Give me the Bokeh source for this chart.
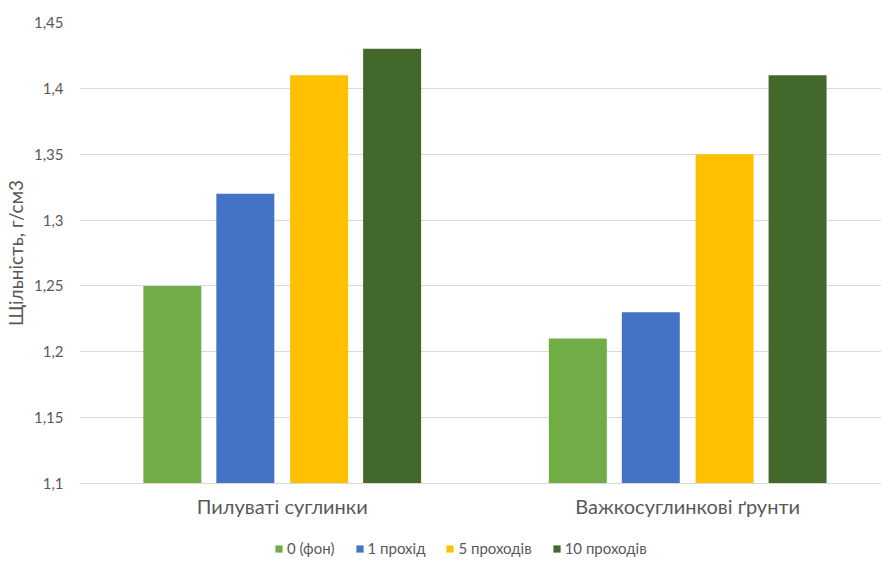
from bokeh.plotting import figure
from bokeh.layouts import column
from bokeh.models import (ColumnDataSource, Range1d, FixedTicker,
                          CustomJSTickFormatter, Legend, LegendItem)
from bokeh.transform import dodge
from bokeh.embed import file_html
from bokeh.resources import INLINE

# Soil density after repeated passes
categories = ["Пилуваті суглинки", "Важкосуглинкові ґрунти"]
series_names = ["0 (фон)", "1 прохід", "5 проходів", "10 проходів"]
fon = [1.25, 1.21]
pass_1 = [1.32, 1.23]
pass_5 = [1.41, 1.35]
pass_10 = [1.43, 1.41]
y_ticks = [1.1, 1.15, 1.2, 1.25, 1.3, 1.35, 1.4, 1.45]

colors = ["#70AD47", "#4472C4", "#FFC000", "#43682B"]
series_keys = ["fon", "p1", "p5", "p10"]
offsets = [-0.271, -0.091, 0.091, 0.271]

# one slot per category, centred at i + 0.5
cat_pos = [i + 0.5 for i in range(len(categories))]
source = ColumnDataSource(dict(pos=cat_pos, fon=fon, p1=pass_1, p5=pass_5, p10=pass_10))

FONT = "Lato"
GREY = "#595959"

p = figure(width=881, height=530,
           x_range=Range1d(0.0, 1.978),
           y_range=Range1d(1.1, 1.45),
           output_backend="svg", toolbar_location=None,
           min_border_left=78, min_border_right=0,
           min_border_top=22, min_border_bottom=47)
p.background_fill_color = "white"
p.border_fill_color = "white"
p.outline_line_color = None

for key, color, off in zip(series_keys, colors, offsets):
    p.vbar(x=dodge("pos", off), top=key, bottom=1.1,
           width=0.143, source=source, fill_color=color, line_color=None)

# y axis
p.yaxis.ticker = FixedTicker(ticks=y_ticks)
p.yaxis.formatter = CustomJSTickFormatter(
    code="return tick.toFixed(2).replace(/0$/, '').replace('.', ',');")
p.yaxis.axis_line_color = None
p.yaxis.major_tick_line_color = None
p.yaxis.minor_tick_line_color = None
p.yaxis.major_tick_out = 0
p.yaxis.major_tick_in = 0
p.yaxis.minor_tick_out = 0
p.yaxis.major_label_text_font = FONT
p.yaxis.major_label_text_font_size = "15px"
p.yaxis.major_label_text_color = GREY
p.yaxis.major_label_standoff = 16
p.yaxis.axis_label = "Щільність, г/см3"
p.yaxis.axis_label_text_font = FONT
p.yaxis.axis_label_text_font_style = "normal"
p.yaxis.axis_label_text_font_size = "19px"
p.yaxis.axis_label_text_color = GREY
p.yaxis.axis_label_standoff = 4

# x axis with category names at the slot centres
p.xaxis.ticker = FixedTicker(ticks=cat_pos)
p.xaxis.major_label_overrides = {pos: name for pos, name in zip(cat_pos, categories)}
p.xaxis.axis_line_color = "#d9d9d9"
p.xaxis.major_tick_line_color = None
p.xaxis.minor_tick_line_color = None
p.xaxis.major_tick_out = 0
p.xaxis.major_tick_in = 0
p.xaxis.minor_tick_out = 0
p.xaxis.major_label_text_font = FONT
p.xaxis.major_label_text_font_size = "20px"
p.xaxis.major_label_text_color = GREY
p.xaxis.major_label_standoff = 10

p.xgrid.grid_line_color = None
p.ygrid.grid_line_color = "#d9d9d9"
p.ygrid.grid_line_width = 1

# legend strip underneath the chart
leg = figure(width=881, height=37, x_range=Range1d(0, 1), y_range=Range1d(0, 1),
             output_backend="svg", toolbar_location=None,
             x_axis_location=None, y_axis_location=None,
             min_border=0)
leg.grid.visible = False
leg.outline_line_color = None
leg.background_fill_color = "white"
leg.border_fill_color = "white"

keys_renderers = []
for key, color, off in zip(series_keys, colors, offsets):
    r = leg.vbar(x=dodge("pos", off), top=key, bottom=1.1, width=0.143,
                 source=source, fill_color=color, line_color=None, visible=False)
    keys_renderers.append(r)

legend = Legend(items=[LegendItem(label=n, renderers=[r]) for n, r in zip(series_names, keys_renderers)],
                orientation="horizontal", location=(195, 10),
                label_text_font=FONT, label_text_font_size="15px",
                label_text_color=GREY, glyph_width=9, glyph_height=9,
                label_standoff=4, spacing=20, padding=0, margin=0,
                label_height=16,
                border_line_color=None, background_fill_alpha=0)
leg.add_layout(legend, "center")

layout = column(p, leg, spacing=0)
open("out.html", "w").write(file_html(layout, INLINE))
